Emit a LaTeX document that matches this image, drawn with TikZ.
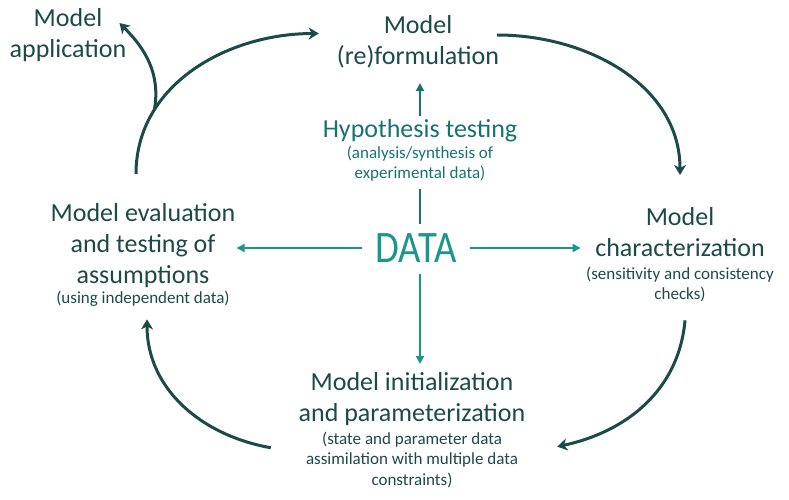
\documentclass[tikz,border=0pt]{standalone}
\usepackage{fontspec}
\setmainfont{Carlito}
\usepackage{graphicx}
\usetikzlibrary{arrows.meta,positioning}
\definecolor{cycledark}{HTML}{1B4A48}
\definecolor{datateal}{HTML}{1C968A}
\definecolor{hypteal}{HTML}{17736F}
\tikzstyle{bigtext} = [inner sep=0pt, align=center, text=cycledark,
    font=\fontsize{26}{31}\selectfont]
\tikzstyle{smalltext} = [inner sep=0pt, align=center, text=cycledark,
    font=\fontsize{17}{20.5}\selectfont]
\tikzstyle{datatext} = [inner sep=0pt, text=datateal, font=\fontsize{45}{50}\selectfont]
\tikzstyle{cyclearrow} = [draw=cycledark, line width=3pt,
    -{Stealth[length=10pt,width=12pt,inset=3pt]}]
\tikzstyle{dataarrow} = [draw=datateal, line width=2.4pt,
    -{Triangle[length=8pt,width=8pt]}]
\begin{document}
\begin{tikzpicture}[x=1pt,y=1pt]
  \useasboundingbox (0,0) rectangle (789,499);

  \node[bigtext, anchor=north] (app)  at (68,491)  {Model\\application};
  \node[bigtext, anchor=north] (form) at (418,484) {Model\\(re)formulation};
  \node[bigtext, anchor=base, text=hypteal] (hyp) at (420,361) {Hypothesis testing};
  \node[smalltext, text=hypteal, below=3pt of hyp] (hypnote) {(analysis/synthesis of\\experimental data)};
  \node[datatext] (data) at (416,251) {\scalebox{0.86}[1]{DATA}};
  \node[bigtext, anchor=north] (eval) at (143,296) {Model evaluation\\and testing of\\assumptions};
  \node[smalltext, below=3pt of eval] (evalnote) {(using independent data)};
  \node[bigtext, anchor=north] (char) at (680,292) {Model\\characterization};
  \node[smalltext, below=10pt of char] (charnote) {(sensitivity and consistency\\checks)};
  \node[bigtext, anchor=north] (init) at (412,127) {Model initialization\\and parameterization};
  \node[smalltext, below=6pt of init] (initnote) {(state and parameter data\\assimilation with multiple data\\constraints)};

  % data flows
  \draw[draw=hypteal, line width=2.4pt, shorten <=9pt, shorten >=7pt]
    (hypnote.south |- data.north) -- (hypnote.south);
  \draw[dataarrow, draw=hypteal, shorten <=4pt, shorten >=15pt]
    (hyp.north) -- (hyp.north |- form.south);
  \draw[dataarrow, shorten <=13.5pt, shorten >=1pt] (data.west) -- (data.west -| eval.east);
  \draw[dataarrow, shorten <=13.5pt, shorten >=14.5pt] (data.east) -- (data.east -| char.west);
  \draw[dataarrow, shorten <=11pt, shorten >=8pt]
    (hypnote.south |- data.south) -- (hypnote.south |- init.north);

  % modelling cycle
  \draw[cyclearrow] ([xshift=-7pt,yshift=29pt]eval.north) to[out=90,in=180]
    coordinate[pos=0.27] (fork) ([xshift=-18pt,yshift=8pt]form.west);
  \draw[cyclearrow] (fork) to[out=80,in=-45] ([xshift=-7pt,yshift=-15pt]app.north east);
  \draw[cyclearrow] ([xshift=-2pt,yshift=-20pt]form.north east) to[out=0,in=90]
    ([yshift=32pt]char.north);
  \draw[cyclearrow] ([xshift=5pt,yshift=-18pt]charnote.south) to[out=-95,in=12]
    ([xshift=39pt,yshift=-15pt]initnote.north east);
  \draw[cyclearrow] ([xshift=-35pt,yshift=12pt]initnote.west) to[out=170,in=-90]
    ([xshift=4pt,yshift=-13pt]evalnote.south);
\end{tikzpicture}
\end{document}
